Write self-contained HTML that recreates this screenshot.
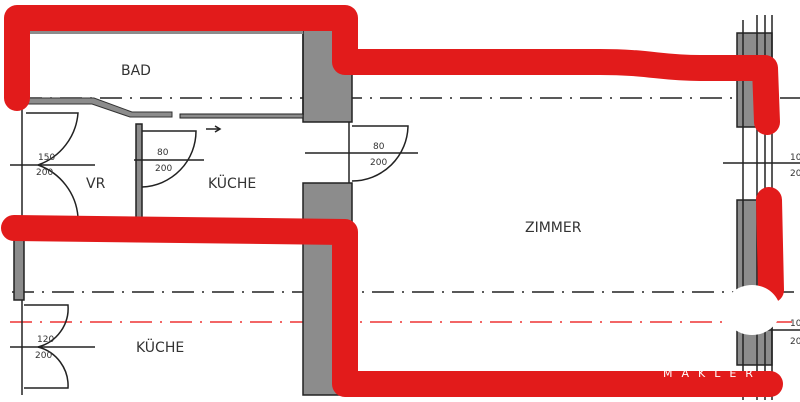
<!DOCTYPE html>
<html><head><meta charset="utf-8"><style>
html,body{margin:0;padding:0;background:#fff;width:800px;height:402px;overflow:hidden}
svg{display:block}
text{font-family:"DejaVu Sans","Liberation Sans",sans-serif;fill:#333}
</style></head><body>
<svg width="800" height="402" viewBox="0 0 800 402" xmlns="http://www.w3.org/2000/svg">
<!-- dash-dot lines -->
<g stroke="#222" stroke-width="1.5" fill="none" stroke-dasharray="22,8,2,8">
<line x1="20" y1="98" x2="800" y2="98"/>
<line x1="12" y1="292" x2="800" y2="292"/>
</g>
<line x1="10" y1="322" x2="800" y2="322" stroke="#e33" stroke-width="1.5" stroke-dasharray="22,8,2,8"/>
<!-- walls -->
<g fill="#8c8c8c" stroke="#222" stroke-width="1.5">
<rect x="303" y="30" width="49" height="92"/>
<rect x="303" y="183" width="49" height="212"/>
<rect x="737" y="33" width="35" height="94"/>
<rect x="737" y="200" width="35" height="165"/>
<rect x="14" y="235" width="10" height="65"/>
<rect x="136" y="124" width="6" height="98"/>
</g>
<rect x="28" y="30" width="275" height="4" fill="#8c8c8c"/>
<line x1="303" y1="34" x2="303" y2="115" stroke="#222" stroke-width="1.5"/>
<!-- bad bottom wall -->
<path d="M26 98 L94 98 L132 112 L172 112 L172 117 L138 117 L130 117 L92 104 L26 104 Z" fill="#8c8c8c" stroke="#333" stroke-width="1"/>
<rect x="180" y="114" width="123" height="4" fill="#8c8c8c" stroke="#222" stroke-width="1"/>
<!-- vertical thin lines -->
<g stroke="#222" stroke-width="1.5" fill="none">
<line x1="22" y1="108" x2="22" y2="222"/>
<line x1="22" y1="300" x2="22" y2="395"/>
<line x1="349" y1="122" x2="349" y2="183"/>
<line x1="743" y1="20" x2="743" y2="400"/>
<line x1="757" y1="15" x2="757" y2="400"/>
<line x1="765" y1="15" x2="765" y2="400"/>
<line x1="772" y1="15" x2="772" y2="400"/>
<!-- doors -->
<path d="M26 113 L78 113 A60 60 0 0 1 38 165"/>
<path d="M38 165 A60 60 0 0 1 78 217 L26 217"/>
<line x1="10" y1="165" x2="95" y2="165"/>
<path d="M142 131 L196 131 A56 56 0 0 1 142 187"/>
<line x1="134" y1="160" x2="204" y2="160"/>
<path d="M352 126 L408 126 A56 56 0 0 1 352 181"/>
<line x1="305" y1="153" x2="418" y2="153"/>
<path d="M24 305 L68 305 A40 40 0 0 1 38 347"/>
<path d="M38 347 A40 40 0 0 1 68 388 L24 388"/>
<line x1="10" y1="347" x2="95" y2="347"/>
<line x1="723" y1="163" x2="800" y2="163"/>
<line x1="750" y1="330" x2="800" y2="330"/>
<line x1="206" y1="129" x2="220" y2="129"/>
<path d="M215 126 L220 129 L215 132"/>
</g>
<!-- text -->
<g font-size="14">
<text x="121" y="75">BAD</text>
<text x="86" y="188">VR</text>
<text x="208" y="188">KÜCHE</text>
<text x="525" y="232">ZIMMER</text>
<text x="136" y="352">KÜCHE</text>
</g>
<g font-size="9">
<text x="157" y="155">80</text><text x="155" y="171">200</text>
<text x="373" y="149">80</text><text x="370" y="165">200</text>
<text x="38" y="160">150</text><text x="36" y="175">200</text>
<text x="37" y="342">120</text><text x="35" y="358">200</text>
<text x="790" y="160">10</text><text x="790" y="176">20</text>
<text x="790" y="326">10</text><text x="790" y="344">20</text>
</g>
<!-- red outlines -->
<g stroke="#e21b1b" stroke-width="26" fill="none" stroke-linecap="round" stroke-linejoin="round">
<path d="M17 98 L17 18 L345 18 L345 62 L600 62 C650 62 660 68 700 68 L765 68 L767 122"/>
<path d="M14 228 L345 232 L345 384 L770 384"/>
<path d="M769 200 L771 290"/>
</g>
<ellipse cx="752" cy="310" rx="28" ry="25" fill="#fff"/>
<text x="663" y="377" font-size="11" style="fill:#fff;letter-spacing:9px">MAKLER</text>
</svg>
</body></html>
